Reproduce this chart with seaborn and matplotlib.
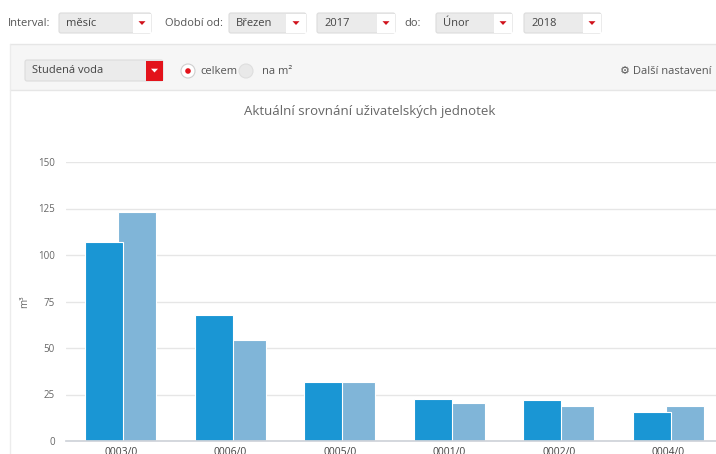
import pandas as pd
import seaborn as sns
import matplotlib.pyplot as plt
from matplotlib.patches import FancyBboxPatch, Rectangle, Circle, Polygon

# data
units = ["0003/0", "0006/0", "0005/0", "0001/0", "0002/0", "0004/0"]
current = [107, 68, 31.5, 22.5, 22, 15.5]
previous = [123, 54.5, 31.5, 20.5, 19, 19]
series_names = ["Aktuální období", "Předchozí období"]
y_ticks = [0, 25, 50, 75, 100, 125, 150]

df = pd.DataFrame({
    "jednotka": units * 2,
    "spotreba": current + previous,
    "obdobi": [series_names[0]] * len(units) + [series_names[1]] * len(units),
})

sns.set_theme(style="white")
plt.rcParams["font.family"] = ["Open Sans", "DejaVu Sans"]

TXT = "#555555"
RED = "#e3131b"

fig = plt.figure(figsize=(7.16, 4.54), dpi=100)

#######################################################################
# page chrome (pixel coordinates)
#######################################################################
ui = fig.add_axes([0, 0, 1, 1])
ui.set_xlim(0, 716)
ui.set_ylim(454, 0)
ui.axis("off")


def dropdown(x0, x1, y0, y1, text, btn_w=18, red_btn=False):
    ui.add_patch(FancyBboxPatch((x0, y0), x1 - x0, y1 - y0,
                                boxstyle="round,pad=0,rounding_size=2",
                                fc="#ebebeb", ec="#dcdcdc", lw=0.8))
    ui.add_patch(Rectangle((x1 - btn_w, y0 + 0.5), btn_w - 0.5, y1 - y0 - 1,
                           fc=RED if red_btn else "white", ec="none"))
    cx = x1 - btn_w / 2
    cy = (y0 + y1) / 2
    ui.add_patch(Polygon([(cx - 3.5, cy - 1.8), (cx + 3.5, cy - 1.8), (cx, cy + 2)],
                         closed=True, fc="white" if red_btn else "#d0111b", ec="none"))
    ui.text(x0 + 7, cy, text, ha="left", va="center", fontsize=8, color="#444444")


# top filter row
ui.text(8, 23, "Interval:", ha="left", va="center", fontsize=8, color=TXT)
dropdown(59, 151, 13, 33, "měsíc")
ui.text(165, 23, "Období od:", ha="left", va="center", fontsize=8, color=TXT)
dropdown(229, 306, 13, 33, "Březen", btn_w=20)
dropdown(317, 395, 13, 33, "2017")
ui.text(404, 23, "do:", ha="left", va="center", fontsize=8, color=TXT)
dropdown(436, 512, 13, 33, "Únor")
dropdown(524, 601, 13, 33, "2018")

# grey option band
ui.add_patch(Rectangle((10, 44), 720, 46, fc="#f6f6f6", ec="none"))
ui.plot([10, 716], [44, 44], color="#e6e6e6", lw=1)
ui.plot([10, 716], [90, 90], color="#e6e6e6", lw=1)
ui.plot([10, 10], [44, 454], color="#ececec", lw=1)

dropdown(25, 163, 60, 81, "Studená voda", btn_w=17, red_btn=True)
ui.add_patch(Circle((188, 71), 7, fc="white", ec="#cfcfcf", lw=0.8))
ui.add_patch(Circle((188, 71), 2.8, fc=RED, ec="none"))
ui.text(200, 71, "celkem", ha="left", va="center", fontsize=8, color=TXT)
ui.add_patch(Circle((246, 71), 7, fc="#e9e9e9", ec="#dedede", lw=0.8))
ui.text(262, 71, "na m²", ha="left", va="center", fontsize=8, color=TXT)
ui.text(712, 71, "⚙ Další nastavení", ha="right", va="center", fontsize=8, color=TXT)

# chart title
ui.text(370, 112, "Aktuální srovnání uživatelských jednotek", ha="center", va="center",
        fontsize=9.5, color="#666666")

#######################################################################
# the bar chart itself
#######################################################################
ax = fig.add_axes([66 / 716, 13 / 454, 657 / 716, 279 / 454])
ax.patch.set_alpha(0)

sns.barplot(data=df, x="jednotka", y="spotreba", hue="obdobi",
            palette=["#1a96d4", "#80b5d8"], saturation=1, width=0.6,
            edgecolor="white", linewidth=0.8, legend=False, ax=ax)

# slightly wider bars so the pair overlaps a little, dark one in front
for i, cont in enumerate(ax.containers):
    for p in cont:
        c = p.get_x() + p.get_width() / 2
        p.set_width(0.345)
        p.set_x(c - 0.345 / 2)
        p.set_zorder(3 - i)

ax.set_xlim(-0.5, len(units) - 0.5)
ax.set_ylim(0, 150)
ax.set_yticks(y_ticks)
ax.yaxis.grid(True, color="#e6e6e6", lw=1)
ax.set_axisbelow(True)

for s in ["top", "right", "left"]:
    ax.spines[s].set_visible(False)
ax.spines["bottom"].set_color("#cfd3d9")
ax.spines["bottom"].set_zorder(4)

ax.tick_params(axis="y", length=0, pad=8, labelsize=7, labelcolor="#666666")
ax.tick_params(axis="x", which="major", length=0, pad=4, labelsize=7.5, labelcolor="#444444")
ax.set_xticks([i - 0.5 for i in range(len(units) + 1)], minor=True)
ax.tick_params(axis="x", which="minor", length=7, width=1, color="#cfd3d9", direction="out")

ax.set_xlabel("")
ax.set_ylabel("m³", fontsize=7, color="#666666")
ax.yaxis.set_label_coords(-0.055, 0.5)

fig.savefig("out.png", dpi=100)
